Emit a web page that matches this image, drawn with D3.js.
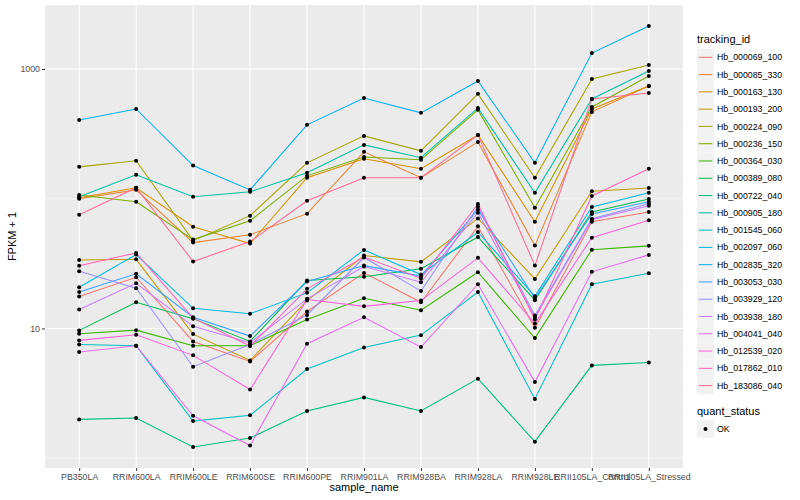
<!DOCTYPE html>
<html>
<head>
<meta charset="utf-8">
<script src="https://cdn.jsdelivr.net/npm/d3@7"></script>
<style>
  body { margin: 0; background: #fff; }
  text { font-family: "Liberation Sans", Arial, sans-serif; }
</style>
</head>
<body>
<div id="canvas"></div>
<script>
const samples = [
  "PB350LA", "RRIM600LA", "RRIM600LE", "RRIM600SE", "RRIM600PE", "RRIM901LA",
  "RRIM928BA", "RRIM928LA", "RRIM928LE", "RRII105LA_Control", "RRII105LA_Stressed"
];

const trackingIds = [
  "Hb_000069_100", "Hb_000085_330", "Hb_000163_130", "Hb_000193_200", "Hb_000224_090",
  "Hb_000236_150", "Hb_000364_030", "Hb_000389_080", "Hb_000722_040", "Hb_000905_180",
  "Hb_001545_060", "Hb_002097_060", "Hb_002835_320", "Hb_003053_030", "Hb_003929_120",
  "Hb_003938_180", "Hb_004041_040", "Hb_012539_020", "Hb_017862_010", "Hb_183086_040"
];

// FPKM + 1, one value per sample
const hb_000069_100 = [17.6, 24.8, 7.94, 5.57, 13.5, 26.8, 15.9, 61.2, 10.1, 66.5, 79.0];
const hb_000085_330 = [100, 117, 45.9, 52.8, 76.7, 230, 145, 274, 43.5, 467, 740];
const hb_000163_130 = [101.8, 121.6, 60.9, 45.1, 145, 203, 170, 310, 66.5, 492, 740];
const hb_000193_200 = [33.7, 34.1, 9.04, 5.67, 16.4, 36.5, 32.6, 70.5, 24.1, 114, 121];
const hb_000224_090 = [176, 196, 47.5, 74, 189, 305, 234, 643, 145, 837, 1074];
const hb_000236_150 = [107, 94.8, 48.4, 67.7, 150, 210, 199.5, 484, 85.3, 510, 883];
const hb_000364_030 = [9.10, 9.70, 7.36, 7.36, 11.7, 17.1, 13.8, 27.1, 8.42, 40.5, 43.3];
const hb_000389_080 = [9.66, 15.9, 11.9, 7.94, 23.4, 25.0, 28.9, 50.7, 16.5, 79.0, 99.5];
const hb_000722_040 = [1.99, 2.04, 1.22, 1.43, 2.31, 2.94, 2.31, 4.10, 1.34, 5.19, 5.47];
const hb_000905_180 = [103.5, 153, 103.5, 113, 158.5, 260, 207, 501, 111, 587, 966];
const hb_001545_060 = [7.53, 7.36, 1.93, 2.14, 4.86, 7.14, 8.88, 19.1, 2.86, 21.9, 26.6];
const hb_002097_060 = [20.8, 37.1, 14.3, 13.0, 18.8, 40.3, 26.0, 55.4, 17.7, 86.3, 111];
const hb_002835_320 = [405, 492, 180, 117, 371, 598, 459, 809, 189, 1327, 2143];
const hb_003053_030 = [19.1, 26.4, 12.2, 8.73, 23.0, 30.5, 25.3, 82.3, 17.1, 76.3, 94.8];
const hb_003929_120 = [27.6, 20.4, 5.07, 7.53, 12.7, 35.2, 19.4, 86.8, 12.6, 70.2, 91.6];
const hb_003938_180 = [14.0, 22.3, 10.4, 7.76, 16.9, 30.0, 22.7, 78.0, 12.2, 68.9, 88.3];
const hb_004041_040 = [6.57, 7.36, 2.12, 1.25, 7.62, 12.2, 7.18, 21.9, 3.86, 27.3, 36.9];
const hb_012539_020 = [8.09, 8.95, 6.20, 3.38, 16.7, 14.8, 16.4, 35.0, 10.9, 50.1, 68.1];
const hb_017862_010 = [30.4, 38.2, 12.0, 7.31, 20.2, 35.5, 24.3, 91.0, 11.7, 105, 170];
const hb_183086_040 = [75.3, 121.6, 32.8, 46.7, 96.5, 145, 145, 310, 30.5, 587, 653];

const seriesValues = [
  hb_000069_100, hb_000085_330, hb_000163_130, hb_000193_200, hb_000224_090,
  hb_000236_150, hb_000364_030, hb_000389_080, hb_000722_040, hb_000905_180,
  hb_001545_060, hb_002097_060, hb_002835_320, hb_003053_030, hb_003929_120,
  hb_003938_180, hb_004041_040, hb_012539_020, hb_017862_010, hb_183086_040
];

const quantStatus = ["OK"];
const yMajorTicks = [10, 1000];
const yMinorTicks = [1, 100];

// ggplot hue palette, 20 levels
const palette = [
  "#F8766D", "#EA8331", "#D89000", "#C09B00", "#A3A500", "#7CAE00", "#39B600",
  "#00BB4E", "#00BF7D", "#00C1A3", "#00BFC4", "#00BAE0", "#00B0F6", "#35A2FF",
  "#9590FF", "#C77CFF", "#E76BF3", "#FA62DB", "#FF62BC", "#FF6C91"
];

const width = 800;
const height = 500;
const panel = { left: 45, right: 683, top: 5, bottom: 468 };

const svg = d3
  .select("#canvas")
  .append("svg")
  .attr("width", width)
  .attr("height", height)
  .attr("viewBox", [0, 0, width, height]);

// log scale with ggplot's 5% expansion
const logExtent = d3.extent(seriesValues.flat()).map(Math.log10);
const pad = (logExtent[1] - logExtent[0]) * 0.05;
const yScale = d3
  .scaleLog()
  .domain([10 ** (logExtent[0] - pad), 10 ** (logExtent[1] + pad)])
  .range([panel.bottom, panel.top]);

const xScale = d3
  .scalePoint()
  .domain(samples)
  .range([panel.left, panel.right])
  .padding(0.6);

// panel
svg
  .append("rect")
  .attr("x", panel.left)
  .attr("y", panel.top)
  .attr("width", panel.right - panel.left)
  .attr("height", panel.bottom - panel.top)
  .attr("fill", "#EBEBEB");

// grid
svg
  .append("g")
  .selectAll("line")
  .data(yMinorTicks)
  .join("line")
  .attr("x1", panel.left)
  .attr("x2", panel.right)
  .attr("y1", (d) => yScale(d))
  .attr("y2", (d) => yScale(d))
  .attr("stroke", "#fff")
  .attr("stroke-width", 0.55);

svg
  .append("g")
  .selectAll("line")
  .data(yMajorTicks)
  .join("line")
  .attr("x1", panel.left)
  .attr("x2", panel.right)
  .attr("y1", (d) => yScale(d))
  .attr("y2", (d) => yScale(d))
  .attr("stroke", "#fff")
  .attr("stroke-width", 1.1);

svg
  .append("g")
  .selectAll("line")
  .data(samples)
  .join("line")
  .attr("x1", (d) => xScale(d))
  .attr("x2", (d) => xScale(d))
  .attr("y1", panel.top)
  .attr("y2", panel.bottom)
  .attr("stroke", "#fff")
  .attr("stroke-width", 1.1);

// lines
const line = d3
  .line()
  .x((d, i) => xScale(samples[i]))
  .y((d) => yScale(d));

svg
  .append("g")
  .selectAll("path")
  .data(seriesValues)
  .join("path")
  .attr("fill", "none")
  .attr("stroke", (d, i) => palette[i])
  .attr("stroke-width", 1.05)
  .attr("d", (d) => line(d));

// points
const points = seriesValues.flatMap((vals) =>
  vals.map((v, i) => ({ sample: samples[i], value: v }))
);

svg
  .append("g")
  .selectAll("circle")
  .data(points)
  .join("circle")
  .attr("cx", (d) => xScale(d.sample))
  .attr("cy", (d) => yScale(d.value))
  .attr("r", 2)
  .attr("fill", "#000");

// axes
const yAxis = d3
  .axisLeft(yScale)
  .tickValues(yMajorTicks)
  .tickFormat(d3.format("d"))
  .tickSize(3)
  .tickPadding(2);

svg
  .append("g")
  .attr("transform", `translate(${panel.left},0)`)
  .call(yAxis)
  .call((g) => g.select(".domain").remove())
  .call((g) => g.selectAll(".tick line").attr("stroke", "#333333"))
  .call((g) =>
    g
      .selectAll(".tick text")
      .attr("fill", "#4D4D4D")
      .style("font-size", "8.8px")
      .style("font-family", "Liberation Sans, Arial, sans-serif")
  );

const xAxis = d3.axisBottom(xScale).tickSize(3).tickPadding(3);

svg
  .append("g")
  .attr("transform", `translate(0,${panel.bottom})`)
  .call(xAxis)
  .call((g) => g.select(".domain").remove())
  .call((g) => g.selectAll(".tick line").attr("stroke", "#333333"))
  .call((g) =>
    g
      .selectAll(".tick text")
      .attr("fill", "#4D4D4D")
      .style("font-size", "8.8px")
      .style("font-family", "Liberation Sans, Arial, sans-serif")
  );

svg
  .append("text")
  .attr("x", (panel.left + panel.right) / 2)
  .attr("y", 491)
  .attr("text-anchor", "middle")
  .style("font-size", "11px")
  .text("sample_name");

svg
  .append("text")
  .attr("transform", `translate(16,${(panel.top + panel.bottom) / 2}) rotate(-90)`)
  .attr("text-anchor", "middle")
  .style("font-size", "11px")
  .text("FPKM + 1");

// legend: tracking_id
const legendX = 697;
const rowH = 17.28;
const firstRow = 57.3;

svg
  .append("text")
  .attr("x", legendX)
  .attr("y", 43)
  .style("font-size", "11px")
  .text("tracking_id");

const keys = svg
  .append("g")
  .selectAll("g")
  .data(trackingIds)
  .join("g")
  .attr("transform", (d, i) => `translate(${legendX},${firstRow + i * rowH})`);

keys
  .append("rect")
  .attr("x", 0)
  .attr("y", -rowH / 2)
  .attr("width", 17)
  .attr("height", rowH)
  .attr("fill", "#F2F2F2");

keys
  .append("line")
  .attr("x1", 1.7)
  .attr("x2", 15.3)
  .attr("stroke", (d, i) => palette[i])
  .attr("stroke-width", 1.05);

keys
  .append("text")
  .attr("x", 20)
  .attr("y", 3.1)
  .style("font-size", "8.8px")
  .text((d) => d);

// legend: quant_status
svg
  .append("text")
  .attr("x", legendX)
  .attr("y", 415)
  .style("font-size", "11px")
  .text("quant_status");

const qKeys = svg
  .append("g")
  .selectAll("g")
  .data(quantStatus)
  .join("g")
  .attr("transform", (d, i) => `translate(${legendX},${429 + i * rowH})`);

qKeys
  .append("rect")
  .attr("y", -rowH / 2)
  .attr("width", 17)
  .attr("height", rowH)
  .attr("fill", "#F2F2F2");

qKeys
  .append("circle")
  .attr("cx", 8.5)
  .attr("r", 2)
  .attr("fill", "#000");

qKeys
  .append("text")
  .attr("x", 20)
  .attr("y", 3.1)
  .style("font-size", "8.8px")
  .text((d) => d);
</script>
</body>
</html>
